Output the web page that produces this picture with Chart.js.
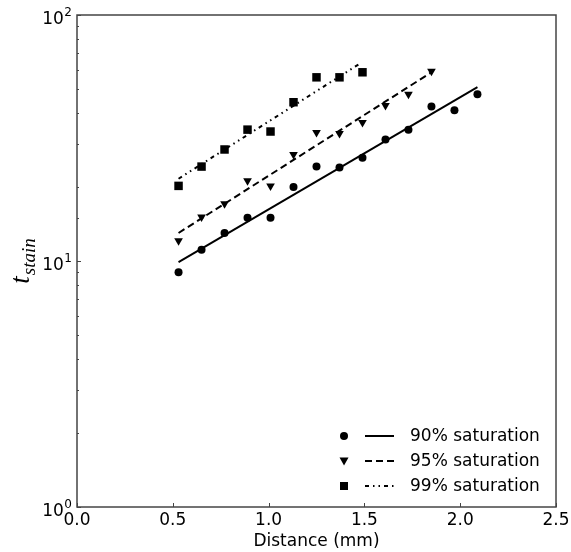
<!DOCTYPE html>
<html>
<head>
<meta charset="utf-8">
<script src="https://cdn.jsdelivr.net/npm/chart.js@4"></script>
<style>
  html, body { margin: 0; padding: 0; background: #fff; }
  #wrap { width: 571px; height: 552px; }
</style>
</head>
<body>
<div id="wrap"><canvas id="stain-chart"></canvas></div>
<script>
const distance90 = [0.53, 0.65, 0.77, 0.89, 1.01, 1.13, 1.25, 1.37, 1.49, 1.61, 1.73, 1.85, 1.97, 2.09];
const tStain90 = [9.0, 11.1, 13.0, 15.0, 15.0, 20.0, 24.2, 24.0, 26.3, 31.2, 34.2, 42.5, 41.0, 47.6];
const distance95 = [0.53, 0.65, 0.77, 0.89, 1.01, 1.13, 1.25, 1.37, 1.49, 1.61, 1.73, 1.85];
const tStain95 = [12.1, 15.1, 17.1, 21.2, 20.2, 27.1, 33.3, 33.0, 36.6, 42.9, 47.6, 59.0];
const distance99 = [0.53, 0.65, 0.77, 0.89, 1.01, 1.13, 1.25, 1.37, 1.49];
const tStain99 = [20.2, 24.2, 28.4, 34.2, 33.6, 44.2, 55.8, 55.8, 58.5];

const fit90X = [0.53, 2.09];
const fit90Y = [9.9, 50.9];
const fit95X = [0.53, 1.85];
const fit95Y = [13.0, 58.5];
const fit99X = [0.53, 1.47];
const fit99Y = [21.6, 63.0];

const xTicks = [0.0, 0.5, 1.0, 1.5, 2.0, 2.5];
const yDecades = [0, 1, 2];
const legendLabels = ["90% saturation", "95% saturation", "99% saturation"];

const toPoints = (xs, ys) => xs.map((x, i) => ({ x, y: ys[i] }));

const dashed = [7, 4];
const dashDotDot = [4, 4, 1.5, 4, 1.5, 4];
const spineColor = "#444";
const tickFont = "17px 'DejaVu Sans'";

const frameAndLabels = {
  id: "frameAndLabels",
  afterDraw(chart) {
    const { ctx, chartArea: a, scales } = chart;
    const xs = scales.x, ys = scales.y;
    ctx.save();

    // frame
    ctx.strokeStyle = spineColor;
    ctx.lineWidth = 1.5;
    ctx.strokeRect(a.left, a.top, a.right - a.left, a.bottom - a.top);

    // inward ticks
    ctx.lineWidth = 1;
    ctx.beginPath();
    xTicks.forEach(v => {
      const px = Math.round(xs.getPixelForValue(v)) + 0.5;
      ctx.moveTo(px, a.bottom);
      ctx.lineTo(px, a.bottom - 4);
    });
    ys.ticks.forEach(t => {
      const py = Math.round(ys.getPixelForValue(t.value)) + 0.5;
      const major = Math.abs(Math.log10(t.value) - Math.round(Math.log10(t.value))) < 1e-9;
      ctx.moveTo(a.left, py);
      ctx.lineTo(a.left + (major ? 4 : 2), py);
    });
    ctx.stroke();

    ctx.fillStyle = "#000";

    // x tick labels and title
    ctx.font = tickFont;
    ctx.textAlign = "center";
    ctx.textBaseline = "alphabetic";
    xTicks.forEach(v => {
      ctx.fillText(v.toFixed(1), xs.getPixelForValue(v), a.bottom + 18);
    });
    ctx.fillText("Distance (mm)", (a.left + a.right) / 2, a.bottom + 39);

    // y tick labels 10^n
    ctx.textAlign = "right";
    yDecades.forEach(n => {
      const py = ys.getPixelForValue(Math.pow(10, n));
      ctx.font = "12px 'DejaVu Sans'";
      const exp = String(n);
      const ew = ctx.measureText(exp).width;
      ctx.fillText(exp, 72, py + 0.5);
      ctx.font = tickFont;
      ctx.fillText("10", 72 - ew - 0.5, py + 8.5);
    });

    // y axis title t_stain
    ctx.save();
    ctx.translate(29, (a.top + a.bottom) / 2);
    ctx.rotate(-Math.PI / 2);
    ctx.font = "italic 27px 'Liberation Serif'";
    const tw = ctx.measureText("t").width;
    ctx.font = "italic 19px 'Liberation Serif'";
    const sw = ctx.measureText("stain").width;
    const total = tw + sw + 1;
    ctx.textAlign = "left";
    ctx.font = "italic 27px 'Liberation Serif'";
    ctx.fillText("t", -total / 2, 0);
    ctx.font = "italic 19px 'Liberation Serif'";
    ctx.fillText("stain", -total / 2 + tw + 1, 6);
    ctx.restore();

    // legend
    const rows = [436, 461, 486];
    const styles = [
      { point: "circle", dash: [] },
      { point: "triangle", dash: dashed },
      { point: "rect", dash: dashDotDot },
    ];
    rows.forEach((ry, i) => {
      ctx.fillStyle = "#000";
      const st = styles[i];
      ctx.beginPath();
      if (st.point === "circle") {
        ctx.arc(344, ry, 4, 0, Math.PI * 2);
      } else if (st.point === "triangle") {
        ctx.moveTo(339.5, ry - 3.5);
        ctx.lineTo(348.5, ry - 3.5);
        ctx.lineTo(344, ry + 4.5);
        ctx.closePath();
      } else {
        ctx.rect(340, ry - 4, 8, 8);
      }
      ctx.fill();
      ctx.strokeStyle = "#000";
      ctx.lineWidth = 2;
      ctx.setLineDash(st.dash);
      ctx.beginPath();
      ctx.moveTo(365, ry);
      ctx.lineTo(394, ry);
      ctx.stroke();
      ctx.setLineDash([]);
      ctx.font = tickFont;
      ctx.textAlign = "left";
      ctx.textBaseline = "middle";
      ctx.fillText(legendLabels[i], 410, ry + 1);
    });

    ctx.restore();
  }
};

new Chart(document.getElementById("stain-chart"), {
  type: "scatter",
  data: {
    datasets: [
      {
        label: legendLabels[0],
        data: toPoints(distance90, tStain90),
        pointStyle: "circle",
        pointRadius: 4,
        backgroundColor: "#000",
        borderWidth: 0,
      },
      {
        label: legendLabels[1],
        data: toPoints(distance95, tStain95),
        pointStyle: "triangle",
        pointRotation: 180,
        pointRadius: 5,
        backgroundColor: "#000",
        borderWidth: 0,
      },
      {
        label: legendLabels[2],
        data: toPoints(distance99, tStain99),
        pointStyle: "rect",
        pointRadius: 6,
        backgroundColor: "#000",
        borderWidth: 0,
      },
      {
        label: "fit 90",
        data: toPoints(fit90X, fit90Y),
        showLine: true,
        pointRadius: 0,
        borderColor: "#000",
        borderWidth: 2,
      },
      {
        label: "fit 95",
        data: toPoints(fit95X, fit95Y),
        showLine: true,
        pointRadius: 0,
        borderColor: "#000",
        borderWidth: 2,
        borderDash: dashed,
      },
      {
        label: "fit 99",
        data: toPoints(fit99X, fit99Y),
        showLine: true,
        pointRadius: 0,
        borderColor: "#000",
        borderWidth: 2,
        borderDash: dashDotDot,
      },
    ],
  },
  options: {
    responsive: true,
    maintainAspectRatio: false,
    animation: false,
    layout: { padding: { top: 15, right: 15, left: 0, bottom: 0 } },
    plugins: {
      legend: { display: false },
      tooltip: { enabled: false },
    },
    scales: {
      x: {
        type: "linear",
        min: 0,
        max: 2.5,
        afterFit: scale => { scale.height = 45; },
        grid: { display: false },
        border: { display: false },
        ticks: { display: false },
      },
      y: {
        type: "logarithmic",
        min: 1,
        max: 100,
        afterFit: scale => { scale.width = 77; },
        grid: { display: false },
        border: { display: false },
        ticks: { display: false, autoSkip: false },
      },
    },
  },
  plugins: [frameAndLabels],
});
</script>
</body>
</html>
